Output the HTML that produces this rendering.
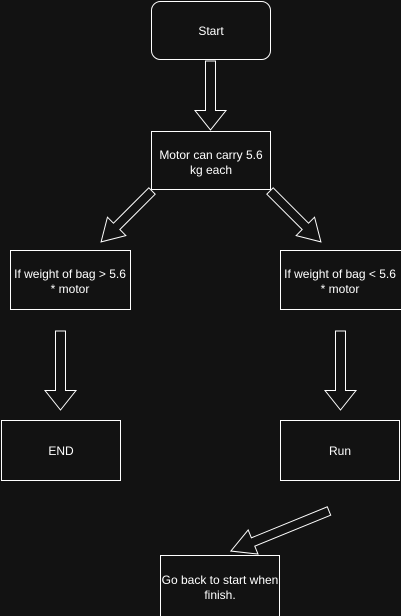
<!DOCTYPE html>
<html><head><style>
html,body{margin:0;padding:0;background:#121212;}
svg{display:block;}
text{font-family:"Liberation Sans",Arial,sans-serif;font-size:12px;fill:#fff;text-anchor:middle;}
</style></head><body>
<svg width="401" height="616" viewBox="0 0 401 616">
<rect width="401" height="616" fill="#121212"/>
<g fill="none" stroke="#fff" stroke-width="1">
<rect x="151.5" y="1.5" width="119" height="58" rx="9"/>
<rect x="151.5" y="131.5" width="119" height="58"/>
<rect x="10.5" y="250.5" width="120" height="59"/>
<rect x="280.5" y="250.5" width="121" height="59"/>
<rect x="1.5" y="420.5" width="119" height="60"/>
<rect x="280.5" y="420.5" width="119" height="60"/>
<rect x="160.5" y="555.5" width="119" height="61"/>
</g>
<g fill="#121212" stroke="#fff" stroke-width="1">
<polygon points="205.5,61 215.5,61 215.5,110.5 226,110.5 210.5,130 195,110.5 205.5,110.5"/>
<polygon points="55.5,331 65.5,331 65.5,390.5 76,390.5 60.5,410 45,390.5 55.5,390.5"/>
<polygon points="335.5,331 345.5,331 345.5,390.5 356,390.5 340.5,410 325,390.5 335.5,390.5"/>
<g transform="translate(152,191) rotate(135)"><polygon points="0,-4.5 50,-4.5 50,-13 72,0 50,13 50,4.5 0,4.5"/></g>
<g transform="translate(270,191) rotate(45)"><polygon points="0,-4.5 50,-4.5 50,-13 72,0 50,13 50,4.5 0,4.5"/></g>
<g transform="translate(329,511) rotate(157.8)"><polygon points="0,-4.5 82,-4.5 82,-13 106,0 82,13 82,4.5 0,4.5"/></g>
</g>
<text x="211" y="35">Start</text>
<text x="211" y="159">Motor can carry 5.6</text>
<text x="211" y="174">kg each</text>
<text x="70" y="278">If weight of bag &gt; 5.6</text>
<text x="70" y="293">* motor</text>
<text x="340" y="278">If weight of bag &lt; 5.6</text>
<text x="340" y="293">* motor</text>
<text x="61" y="455">END</text>
<text x="340" y="455">Run</text>
<text x="220" y="584">Go back to start when</text>
<text x="220" y="599">finish.</text>
</svg>
</body></html>
